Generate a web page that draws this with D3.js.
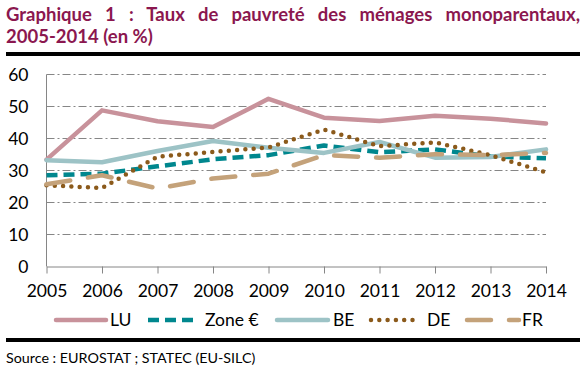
<!DOCTYPE html>
<html lang="fr">
<head>
<meta charset="UTF-8">
<title>Taux de pauvreté des ménages monoparentaux</title>
<script src="https://d3js.org/d3.v7.min.js"></script>
<style>
    body { margin: 0; background: #fff; font-family: Lato, "Open Sans", sans-serif; }
    .grid line { stroke: #868686; stroke-width: 1; stroke-dasharray: 8 3 2 3; }
    .axis path, .axis line { stroke: #868686; }
    .axis text { font-size: 17.5px; fill: #000; font-family: Lato, sans-serif; }
</style>
</head>
<body>
<svg id="chart" width="586" height="373"></svg>
<script>
    const years = [2005, 2006, 2007, 2008, 2009, 2010, 2011, 2012, 2013, 2014];
    const lu   = [33.4, 48.8, 45.4, 43.6, 52.4, 46.5, 45.5, 47.1, 46.2, 44.7];
    const zone = [28.5, 29.0, 31.3, 33.5, 34.8, 37.8, 35.7, 36.6, 34.4, 33.8];
    const be   = [33.2, 32.6, 36.1, 39.2, 37.1, 35.5, 38.9, 34.0, 34.2, 36.6];
    const de   = [25.4, 24.5, 34.3, 35.8, 37.2, 42.8, 37.6, 38.8, 34.8, 29.4];
    const fr   = [25.7, 28.5, 24.4, 27.5, 29.0, 34.8, 34.0, 35.1, 34.8, 35.5];
    const yTicks = [0, 10, 20, 30, 40, 50, 60];

    const series = [
        { name: "LU", values: lu, color: "#C8929B", dash: null, cap: "round" },
        { name: "Zone €", values: zone, color: "#00878E", dash: "11 6", cap: "butt" },
        { name: "BE", values: be, color: "#9DC3C6", dash: null, cap: "round" },
        { name: "DE", values: de, color: "#8B5A1B", dash: "0 8.3", cap: "round" },
        { name: "FR", values: fr, color: "#C4A27A", dash: "24 18", cap: "round" }
    ];

    const svg = d3.select("#chart");

    // title, first line justified by widening the spaces
    const title = svg.append("text")
        .attr("font-weight", "bold")
        .attr("font-size", "18.5px")
        .attr("fill", "#8B174F");
    const t1 = title.append("tspan").attr("x", 6).attr("y", 21)
        .text("Graphique 1 : Taux de pauvreté des ménages monoparentaux,");
    title.append("tspan").attr("x", 6).attr("y", 43)
        .text("2005-2014 (en %)");
    const w = t1.node().getComputedTextLength();
    const spaces = t1.text().split(" ").length - 1;
    t1.attr("word-spacing", Math.max(0, (574 - w) / spaces));

    svg.append("rect").attr("x", 6).attr("y", 52).attr("width", 574).attr("height", 4).attr("fill", "#000");
    svg.append("rect").attr("x", 6).attr("y", 338).attr("width", 574).attr("height", 4).attr("fill", "#000");

    svg.append("text")
        .attr("x", 6).attr("y", 363)
        .attr("font-size", "14.3px")
        .text("Source : EUROSTAT ; STATEC (EU-SILC)");

    const x = d3.scaleLinear().domain([2005, 2014]).range([46.5, 546]);
    const y = d3.scaleLinear().domain([0, 60]).range([266.5, 74.5]);

    // gridlines
    svg.append("g").attr("class", "grid")
        .selectAll("line").data(yTicks.filter(d => d > 0)).join("line")
        .attr("x1", x(2005)).attr("x2", x(2014))
        .attr("y1", d => y(d)).attr("y2", d => y(d));

    svg.append("g").attr("class", "axis")
        .attr("transform", `translate(${x(2005)},0)`)
        .call(d3.axisLeft(y).tickValues(yTicks).tickSize(0).tickPadding(18))
        .call(g => g.select(".domain").attr("d", `M0,${y(60)}V${y(0)}`));

    svg.append("g").attr("class", "axis")
        .attr("transform", `translate(0,${y(0)})`)
        .call(d3.axisBottom(x).tickValues(years).tickFormat(d3.format("d")).tickSize(7).tickSizeOuter(0).tickPadding(11));

    const line = d3.line().x((d, i) => x(years[i])).y(d => y(d));

    series.forEach(s => {
        svg.append("path")
            .attr("d", line(s.values))
            .attr("fill", "none")
            .attr("stroke", s.color)
            .attr("stroke-width", 4.5)
            .attr("stroke-linecap", s.cap)
            .attr("stroke-linejoin", "round")
            .attr("stroke-dasharray", s.dash);
    });

    // legend
    const legendPos = [
        { x1: 56, x2: 106, tx: 110 },
        { x1: 148, x2: 196, tx: 205 },
        { x1: 277, x2: 328, tx: 333 },
        { x1: 371, x2: 416, tx: 427 },
        { x1: 467, x2: 519, tx: 522 }
    ];
    const legend = svg.append("g");
    series.forEach((s, i) => {
        const p = legendPos[i];
        legend.append("line")
            .attr("x1", p.x1).attr("x2", p.x2)
            .attr("y1", 320).attr("y2", 320)
            .attr("stroke", s.color)
            .attr("stroke-width", 4.5)
            .attr("stroke-linecap", s.cap)
            .attr("stroke-dasharray", s.dash);
        legend.append("text")
            .attr("x", p.tx).attr("y", 326)
            .attr("font-size", "17.5px")
            .text(s.name);
    });
</script>
</body>
</html>
